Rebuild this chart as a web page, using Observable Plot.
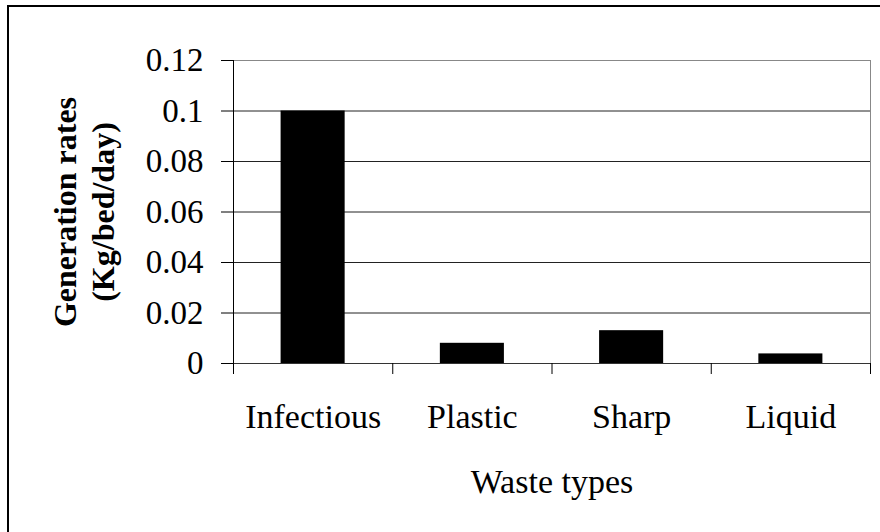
<!DOCTYPE html>
<html><head><meta charset="utf-8">
<script src="https://cdn.jsdelivr.net/npm/d3@7"></script>
<script src="https://cdn.jsdelivr.net/npm/@observablehq/plot@0.6"></script>
<style>
html,body{margin:0;padding:0;background:#fff;overflow:hidden;width:880px;height:532px;}
#chart{position:absolute;left:0;top:0;}
#border{position:absolute;left:7px;top:5px;width:900px;height:560px;border:2px solid #000;box-sizing:border-box;pointer-events:none;}
</style></head><body>
<div id="chart"></div><div id="border"></div>
<script>
const categories = ["Infectious", "Plastic", "Sharp", "Liquid"];
const values = [0.1, 0.008, 0.013, 0.0038];
const yTicks = [0, 0.02, 0.04, 0.06, 0.08, 0.1, 0.12];
const yTickLabels = ["0", "0.02", "0.04", "0.06", "0.08", "0.1", "0.12"];
const xTitle = "Waste types";
const yTitle = "Generation rates\n(Kg/bed/day)";

const data = categories.map((c, i) => ({i, c, v: values[i]}));
const boundaries = d3.range(categories.length + 1);
const centers = categories.map((c, i) => i + 0.5);
const font = "Liberation Serif, Times New Roman, serif";

const chart = Plot.plot({
  width: 880, height: 532,
  marginLeft: 233, marginRight: 10, marginTop: 60, marginBottom: 169,
  style: {fontFamily: font, background: "transparent", color: "#000"},
  x: {type: "linear", domain: [0, categories.length]},
  y: {domain: [0, 0.12]},
  marks: [
    Plot.gridY(yTicks, {stroke: "#222", strokeOpacity: 1}),
    Plot.rectY(data, {x1: "i", x2: d => d.i + 1, y: "v", fill: "#000", insetLeft: 47.6, insetRight: 47.6}),
    Plot.frame({stroke: "#888"}),
    Plot.ruleX([0], {stroke: "#000"}),
    Plot.ruleY([0], {stroke: "#333"}),
    Plot.axisY({ticks: yTicks, tickFormat: d => yTickLabels[yTicks.indexOf(d)], tickSize: 12, tickPadding: 18, fontSize: 33, label: null}),
    Plot.axisX({ticks: boundaries, tickFormat: () => "", tickSize: 11, label: null}),
    Plot.axisX({ticks: centers, tickFormat: d => categories[Math.floor(d)], tickSize: 0, tickPadding: 40, fontSize: 34, label: null}),
    Plot.text([xTitle], {text: d => d, frameAnchor: "bottom", lineAnchor: "bottom", dy: 129, fontSize: 34}),
    Plot.text([yTitle], {text: d => d, frameAnchor: "left", textAnchor: "middle", rotate: -90, dx: -151, fontSize: 32, fontWeight: "bold", lineHeight: 1.2})
  ]
});
document.getElementById("chart").append(chart);
</script>
</body></html>
